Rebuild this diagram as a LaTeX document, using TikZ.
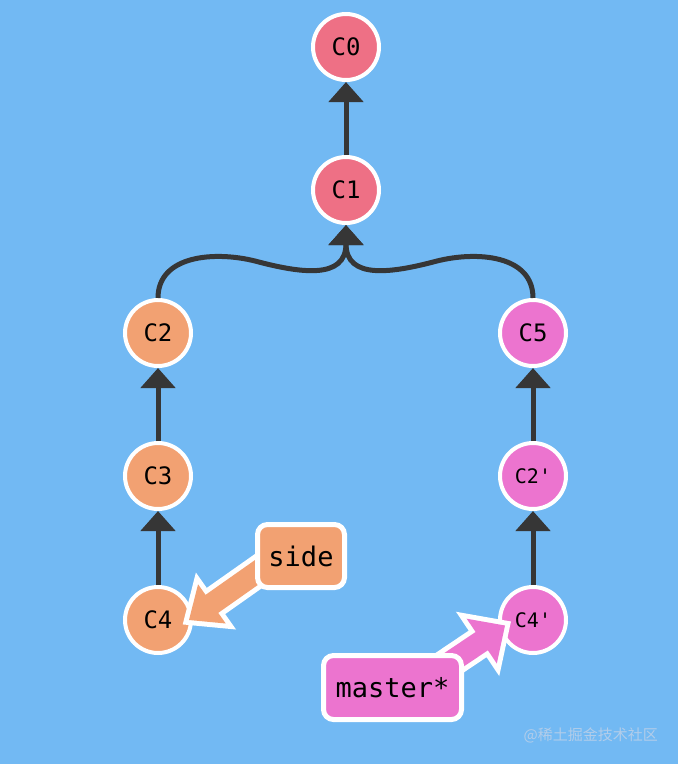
\documentclass[tikz,border=0pt]{standalone}
\usepackage{fontspec}
\setmonofont{DejaVu Sans Mono}
\newfontfamily\cjkfont{Noto Sans CJK SC}
\usetikzlibrary{arrows.meta,calc}
\definecolor{bg}{HTML}{72B9F3}
\definecolor{cred}{HTML}{EE7085}
\definecolor{corange}{HTML}{F2A172}
\definecolor{cpink}{HTML}{EC74CF}
\definecolor{linecol}{HTML}{363636}
\definecolor{wmcol}{HTML}{B2CDEA}
\newcommand\fatarrow[4]{%
  % #1 tail, #2 tip, #3 colour, #4 head half width
  \coordinate (fa-M) at ($(#2)!28pt!(#1)$);
  \fill[#3, preaction={draw=white, line width=10pt}]
    ($(#1)!11pt!90:(#2)$) -- ($(fa-M)!11pt!90:(#2)$) -- ($(fa-M)!#4!90:(#2)$)
    -- (#2) -- ($(fa-M)!#4!-90:(#2)$) -- ($(fa-M)!11pt!-90:(#2)$)
    -- ($(#1)!11pt!-90:(#2)$) -- cycle;
}
\tikzset{
  commit/.style={circle, draw=white, line width=4pt, minimum size=66pt, inner sep=0pt,
    text=black, font=\ttfamily\fontsize{24}{24}\selectfont},
  small/.style={font=\ttfamily\fontsize{20}{20}\selectfont},
  link/.style={draw=linecol, line width=5pt, -{Triangle[length=20pt,width=34pt]}},
  branchbox/.style={rectangle, rounded corners=10pt, draw=white, line width=5pt,
    inner sep=0pt, text=black, font=\ttfamily\fontsize{27}{27}\selectfont}
}
\begin{document}
\begin{tikzpicture}[x=1pt,y=-1pt]
\fill[bg] (0,0) rectangle (678,764);
\useasboundingbox (0,0) rectangle (678,764);

\node[commit, fill=cred] (C0) at (346,47) {C0};
\node[commit, fill=cred] (C1) at (346,190) {C1};
\node[commit, fill=corange] (C2) at (158,333) {C2};
\node[commit, fill=corange] (C3) at (158,476) {C3};
\node[commit, fill=corange] (C4) at (158,620) {C4};
\node[commit, fill=cpink] (C5) at (533,333) {C5};
\node[commit, small, fill=cpink] (C2p) at (533,476) {C2'};
\node[commit, small, fill=cpink] (C4p) at (533,620) {C4'};

\draw[link] (C1) -- (C0);
\draw[link] (C3) -- (C2);
\draw[link] (C4) -- (C3);
\draw[link] (C2p) -- (C5);
\draw[link] (C4p) -- (C2p);
\draw[link] (C2.north) .. controls +(0,-43) and (215,251) .. (255,261)
  .. controls (300,273) and (346,280) .. (C1.south);
\draw[link] (C5.north) .. controls +(0,-43) and (477,251) .. (437,261)
  .. controls (392,273) and (346,280) .. (C1.south);

\coordinate (sideTail) at (277,558);
\coordinate (sideTip) at (189,620);
\fatarrow{sideTail}{sideTip}{corange}{24pt}
\coordinate (masterTail) at (415.6,685.6);
\coordinate (masterTip) at (505,625.5);
\fatarrow{masterTail}{masterTip}{cpink}{27pt}

\node[branchbox, fill=corange, minimum width=87pt, minimum height=63pt] (side) at (301,556) {side};
\node[branchbox, fill=cpink, minimum width=138pt, minimum height=64pt] (master) at (392.5,687.5) {master*};

\node[anchor=east, inner sep=0pt, text=wmcol, font=\cjkfont\fontsize{15}{15}\selectfont] (wm) at (658,735) {@稀土掘金技术社区};
\end{tikzpicture}
\end{document}
